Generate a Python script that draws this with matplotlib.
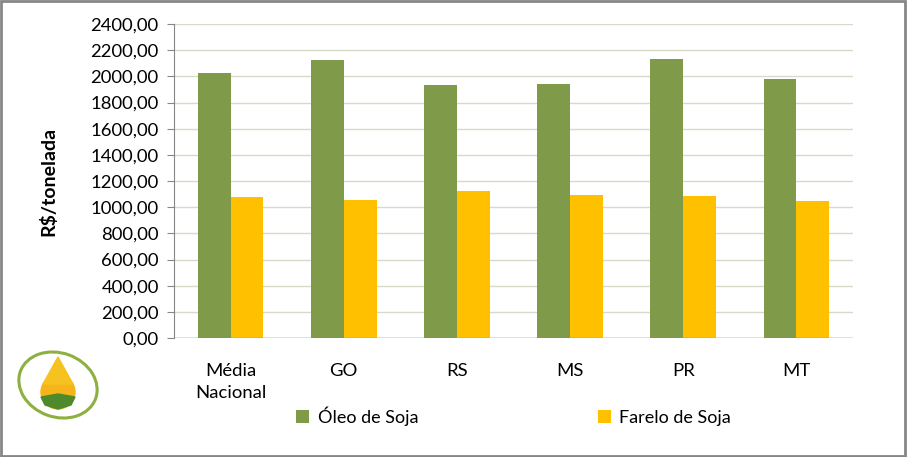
import numpy as np
import matplotlib.pyplot as plt
from matplotlib.patches import Rectangle, Ellipse, Circle, Polygon

# ──────────────────────────────────────────────────────────────────────────────
# Data
# ──────────────────────────────────────────────────────────────────────────────

categories = ["Média\nNacional", "GO", "RS", "MS", "PR", "MT"]
oleo = [2026, 2126, 1934, 1942, 2133, 1980]
farelo = [1079, 1054, 1123, 1092, 1087, 1046]
series_names = ["Óleo de Soja", "Farelo de Soja"]
y_ticks = [0, 200, 400, 600, 800, 1000, 1200, 1400, 1600, 1800, 2000, 2200, 2400]

GREEN = "#7F9A48"
ORANGE = "#FFC000"
GRID = "#D9D9C8"

plt.rcParams["font.family"] = ["Lato", "DejaVu Sans"]

fig = plt.figure(figsize=(9.07, 4.57), dpi=100)
W, H = 907, 457

# plot area in pixel coords
left, right, top, bottom = 174, 853, 24, 338
ax = fig.add_axes([left / W, 1 - bottom / H, (right - left) / W, (bottom - top) / H])

x = np.arange(len(categories))
bw = 0.29
ax.bar(x - bw / 2, oleo, width=bw, color=GREEN, label=series_names[0], zorder=3)
ax.bar(x + bw / 2, farelo, width=bw, color=ORANGE, label=series_names[1], zorder=3)

ax.set_xlim(-0.5, len(categories) - 0.5)
ax.set_ylim(0, 2400)
ax.set_yticks(y_ticks)
ax.set_yticklabels([f"{v:.2f}".replace(".", ",") for v in y_ticks], fontsize=13.3)
ax.set_xticks(x)
ax.set_xticklabels(categories, fontsize=13.3, linespacing=1.45)
ax.tick_params(axis="x", length=0, pad=18)
ax.tick_params(axis="y", length=5, color="#868686", pad=6)

ax.yaxis.grid(True, color=GRID, linewidth=1, zorder=0)
for s in ["top", "right", "bottom"]:
    ax.spines[s].set_visible(False)
ax.spines["left"].set_color("#868686")
ax.axhline(0, color="#868686", linewidth=1, zorder=4)

ax.set_ylabel("R$/tonelada", fontsize=14, fontweight="bold", labelpad=24)

# legend centred under the plot area, like the Excel one
handles, labels = ax.get_legend_handles_labels()
fig.legend(handles, labels, loc="center", bbox_to_anchor=((left + right) / 2 / W, 1 - 416 / H),
           ncol=2, frameon=False, fontsize=13, handlelength=0.75, handleheight=0.75,
           columnspacing=9.95, handletextpad=0.45)

# outer frame
fig.add_artist(Rectangle((0.001, 0.002), 0.997, 0.995, transform=fig.transFigure,
                         fill=False, edgecolor="#868686", linewidth=2))

# rough logo in the lower-left corner
lax = fig.add_axes([14 / W, 1 - 425 / H, 90 / W, 80 / H])
lax.set_xlim(0, 90)
lax.set_ylim(0, 80)
lax.axis("off")
lax.add_patch(Ellipse((44, 40), 80, 64, angle=-20, fill=False, edgecolor="#8DB040", linewidth=2.2))
lax.add_patch(Circle((44, 33), 17, color="#F4B41A"))
lax.add_patch(Polygon([[29, 41], [44, 68], [59, 41]], color="#F6C21F"))
lax.add_patch(Polygon([[27, 28], [44, 31], [61, 28], [57, 20], [44, 16], [31, 20]], color="#4E8A2B"))

fig.savefig("out.png", dpi=100)
